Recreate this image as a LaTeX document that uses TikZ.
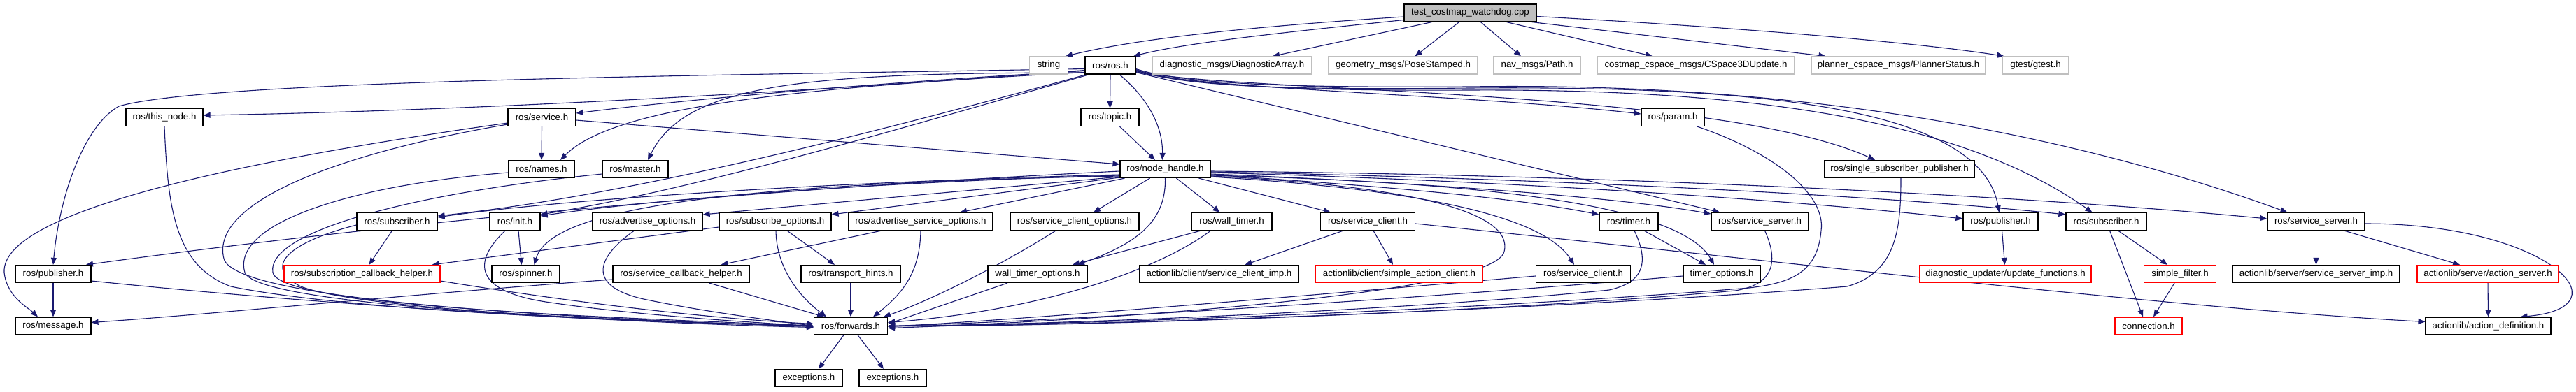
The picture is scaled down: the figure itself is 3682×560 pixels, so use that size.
\documentclass[tikz,border=0pt]{standalone}
\usepackage{fontspec}
\setmainfont{Liberation Sans}
\usetikzlibrary{arrows.meta}
\pgfdeclarelayer{edgelayer}
\pgfsetlayers{edgelayer,main}
\definecolor{edgeblue}{HTML}{191970}
\definecolor{extgray}{HTML}{BFBFBF}
\definecolor{rootgray}{HTML}{BFBFBF}
\definecolor{trunc}{HTML}{FF0000}
\newcommand{\nodefont}{\fontsize{13.3}{16}\selectfont}
\begin{document}
\begin{tikzpicture}[x=1pt,y=-1pt,
  box/.style={draw=black, line width=1.2pt, fill=white, minimum height=25pt, inner sep=0pt, font=\nodefont},
  extbox/.style={box, draw=extgray},
  redbox/.style={box, draw=trunc},
  rootbox/.style={box, fill=rootgray},
  e/.style={draw=edgeblue, line width=1.1pt, -{Triangle[length=10pt,width=8pt]}}]
\useasboundingbox (0,0) rectangle (3682,560);
% rank 0
\node[rootbox, minimum width=189pt] (root) at (2101.5,18.5) {test\_costmap\_watchdog.cpp};
% rank 1
\node[extbox, minimum width=55pt] (string) at (1499,93.5) {string};
\node[box, minimum width=72pt] (rosh) at (1587,93.5) {ros/ros.h};
\node[extbox, minimum width=227pt] (diag) at (1761,93.5) {diagnostic\_msgs/DiagnosticArray.h};
\node[extbox, minimum width=213pt] (pose) at (2005.5,93.5) {geometry\_msgs/PoseStamped.h};
\node[extbox, minimum width=124pt] (path) at (2197,93.5) {nav\_msgs/Path.h};
\node[extbox, minimum width=281pt] (cspace) at (2424,93.5) {costmap\_cspace\_msgs/CSpace3DUpdate.h};
\node[extbox, minimum width=249pt] (planner) at (2713.5,93.5) {planner\_cspace\_msgs/PlannerStatus.h};
\node[extbox, minimum width=95pt] (gtest) at (2909.5,93.5) {gtest/gtest.h};
% rank 2
\node[box, minimum width=110pt] (thisnode) at (235,168) {ros/this\_node.h};
\node[box, minimum width=97pt] (service) at (774.5,168) {ros/service.h};
\node[box, minimum width=83pt] (topic) at (1586.5,168) {ros/topic.h};
\node[box, minimum width=90pt] (param) at (2391,168) {ros/param.h};
% rank 3
\node[box, minimum width=94pt] (names) at (774,242) {ros/names.h};
\node[box, minimum width=94pt] (master) at (908,242) {ros/master.h};
\node[box, minimum width=129pt] (nh) at (1665.5,242) {ros/node\_handle.h};
\node[box, minimum width=215pt] (ssp) at (2715,242) {ros/single\_subscriber\_publisher.h};
% rank 4
\node[box, minimum width=115pt] (sub1) at (567.5,317) {ros/subscriber.h};
\node[box, minimum width=72pt] (init) at (736,317) {ros/init.h};
\node[box, minimum width=157pt] (advopt) at (925.5,317) {ros/advertise\_options.h};
\node[box, minimum width=160pt] (subopt) at (1108,317) {ros/subscribe\_options.h};
\node[box, minimum width=206pt] (advsrvopt) at (1316,317) {ros/advertise\_service\_options.h};
\node[box, minimum width=184pt] (scopt) at (1536,317) {ros/service\_client\_options.h};
\node[box, minimum width=115pt] (walltimer) at (1760.5,317) {ros/wall\_timer.h};
\node[box, minimum width=135pt] (sc1) at (1955,317) {ros/service\_client.h};
\node[box, minimum width=84pt] (timer) at (2328,317) {ros/timer.h};
\node[box, minimum width=139pt] (ss1) at (2515.5,317) {ros/service\_server.h};
\node[box, minimum width=107pt] (pub2) at (2859.5,317) {ros/publisher.h};
\node[box, minimum width=115pt] (sub2) at (3010.5,317) {ros/subscriber.h};
\node[box, minimum width=139pt] (ss2) at (3310.5,317) {ros/service\_server.h};
% rank 5
\node[box, minimum width=108pt] (pub1) at (76,392) {ros/publisher.h};
\node[redbox, minimum width=223pt] (subcbh) at (517.5,392) {ros/subscription\_callback\_helper.h};
\node[box, minimum width=97pt] (spinner) at (751.5,392) {ros/spinner.h};
\node[box, minimum width=195pt] (srvcbh) at (973.5,392) {ros/service\_callback\_helper.h};
\node[box, minimum width=142pt] (transport) at (1216,392) {ros/transport\_hints.h};
\node[box, minimum width=142pt] (wto) at (1483,392) {wall\_timer\_options.h};
\node[box, minimum width=227pt] (scimp) at (1742.5,392) {actionlib/client/service\_client\_imp.h};
\node[redbox, minimum width=239pt] (sac) at (2000,392) {actionlib/client/simple\_action\_client.h};
\node[box, minimum width=135pt] (sc2) at (2263,392) {ros/service\_client.h};
\node[box, minimum width=110pt] (timeropt) at (2461,392) {timer\_options.h};
\node[redbox, minimum width=245pt] (updfun) at (2866.5,392) {diagnostic\_updater/update\_functions.h};
\node[redbox, minimum width=103pt] (sfilter) at (3116,392) {simple\_filter.h};
\node[box, minimum width=238pt] (ssimp) at (3310.5,392) {actionlib/server/service\_server\_imp.h};
\node[redbox, minimum width=202pt] (actsrv) at (3556,392) {actionlib/server/action\_server.h};
% rank 6
\node[box, minimum width=108pt] (message) at (76,466.5) {ros/message.h};
\node[box, minimum width=105pt] (forwards) at (1216,466.5) {ros/forwards.h};
\node[redbox, minimum width=96pt] (connection) at (3071,466.5) {connection.h};
\node[box, minimum width=179pt] (actdef) at (3556.5,466.5) {actionlib/action\_definition.h};
% rank 7
\node[box, minimum width=96pt] (exc1) at (1156,541) {exceptions.h};
\node[box, minimum width=96pt] (exc2) at (1276,541) {exceptions.h};

\begin{pgfonlayer}{edgelayer}
% ---- edges from root
\draw[e] ([yshift=-5.5pt]root.west) .. controls (1820,36) and (1640,52) .. ([xshift=24pt]string.north);
\draw[e] ([yshift=-10pt]root.west) .. controls (1850,45) and (1700,60) .. ([xshift=33pt]rosh.north);
\draw[e] ([xshift=-55pt]root.south) -- ([xshift=58pt]diag.north);
\draw[e] ([xshift=-16pt]root.south) -- ([xshift=17pt]pose.north);
\draw[e] ([xshift=15pt]root.south) -- ([xshift=-23pt]path.north);
\draw[e] ([xshift=52pt]root.south) -- ([xshift=-62pt]cspace.north);
\draw[e] ([xshift=88pt]root.south) -- ([xshift=-104pt]planner.north);
\draw[e] ([yshift=-5pt]root.east) .. controls (2500,40) and (2750,62) .. ([xshift=-45pt]gtest.north);

% ---- edges from ros/ros.h
\draw[e] ([yshift=-7pt]rosh.west) .. controls (1200,128) and (700,158) .. ([yshift=3pt]thisnode.east);
\draw[e] ([yshift=-5pt]rosh.west) .. controls (1000,108) and (300,115) .. (170,152) .. controls (120,180) and (85,280) .. (pub1.north);
\draw[e] ([yshift=-8pt]rosh.west) .. controls (1300,115) and (1000,140) .. ([yshift=6pt]service.east);
\draw[e] ([yshift=-10pt]rosh.west) .. controls (1150,125) and (880,150) .. ([xshift=27pt]names.north);
\draw[e] ([yshift=-10.5pt]rosh.west) .. controls (1150,104) and (980,120) .. ([xshift=18pt]master.north);
\draw[e] (rosh.south) -- (topic.north);
\draw[e] ([xshift=13pt]rosh.south) .. controls (1640,140) and (1662,180) .. ([xshift=-4pt]nh.north);
\draw[e] ([xshift=-30pt]rosh.south) .. controls (1300,180) and (1000,270) .. ([yshift=10pt]init.east);
\draw[e] ([xshift=-34pt]rosh.south) .. controls (1250,190) and (900,280) .. ([yshift=8pt]sub1.east);
\draw[e] ([yshift=-10pt]rosh.east) -- ([xshift=-57pt]ss1.north);
\draw[e] ([yshift=-9pt]rosh.east) .. controls (1720,128) and (2100,135) .. ([yshift=5pt]param.west);
\draw[e] ([yshift=-8pt]rosh.east) .. controls (1740,132) and (2450,125) .. ([xshift=-35pt]ssp.north);
\draw[e] ([yshift=-7pt]rosh.east) .. controls (1700,128) and (1900,128) .. (2100,126) .. controls (2500,123) and (2830,150) .. ([xshift=-2pt]pub2.north);
\draw[e] ([yshift=-6pt]rosh.east) .. controls (1700,126) and (1900,130) .. (2100,129) .. controls (2500,127) and (2800,170) .. ([xshift=-20pt]sub2.north);
\draw[e] ([yshift=-5pt]rosh.east) .. controls (1700,124) and (1900,125) .. (2100,124) .. controls (2500,118) and (2900,170) .. ([xshift=-41pt]ss2.north);

% ---- rank 2/3 sources
\draw[e] ([xshift=14pt]topic.south) -- ([xshift=-14.5pt]nh.north);
\draw[e] (service.south) -- (names.north);
\draw[e] ([yshift=-4pt]service.east) -- ([yshift=7pt]nh.west);
\draw[e] ([yshift=-8pt]service.west) .. controls (450,215) and (0,290) .. (6,390) .. controls (10,425) and (40,440) .. ([xshift=-22pt]message.north);
\draw[e] ([yshift=-10pt]service.west) .. controls (480,220) and (300,290) .. (320,370) .. controls (335,430) and (800,455) .. ([yshift=-1pt]forwards.west);
\draw[e] (thisnode.south) .. controls (240,300) and (250,380) .. (330,410) .. controls (500,445) and (900,460) .. (forwards.west);
\draw[e] ([yshift=-5pt]names.west) .. controls (500,265) and (330,320) .. (350,390) .. controls (370,440) and (900,460) .. (forwards.west);
\draw[e] ([yshift=-7pt]master.west) .. controls (600,275) and (380,330) .. (390,390) .. controls (400,440) and (900,455) .. (forwards.west);
\draw[e] ([xshift=2pt]ssp.south) .. controls (2717,330) and (2710,390) .. (2640,410) .. controls (2200,445) and (1500,468) .. (forwards.east);
\draw[e] ([xshift=35pt]param.south) .. controls (2540,220) and (2610,280) .. (2603,330) .. controls (2598,390) and (2560,405) .. (2500,412) .. controls (2100,445) and (1500,466) .. (forwards.east);

% ---- edges from ros/node_handle.h
\draw[e] ([yshift=-8pt]nh.west) .. controls (1200,260) and (800,285) .. ([yshift=6pt]sub1.east);
\draw[e] ([yshift=-9pt]nh.west) .. controls (1200,262) and (900,290) .. ([yshift=8pt]init.east);
\draw[e] ([yshift=-10pt]nh.west) .. controls (1100,262) and (790,290) .. ([xshift=12pt]spinner.north);
\draw[e] ([yshift=-11pt]nh.west) -- ([yshift=10pt]advopt.east);
\draw[e] ([yshift=-12pt]nh.west) -- ([yshift=10pt]subopt.east);
\draw[e] ([xshift=-58pt]nh.south) -- ([xshift=56pt]advsrvopt.north);
\draw[e] ([xshift=-22pt]nh.south) -- ([xshift=27pt]scopt.north);
\draw[e] ([yshift=-3pt]nh.west) .. controls (1250,262) and (700,300) .. ([xshift=47pt]pub1.north);
\draw[e] ([xshift=16pt]nh.south) -- ([xshift=-17pt]walltimer.north);
\draw[e] (nh.south) .. controls (1667,320) and (1620,350) .. ([xshift=57pt]wto.north);
\draw[e] ([xshift=48pt]nh.south) -- ([xshift=-53pt]sc1.north);
\draw[e] ([yshift=-11pt]nh.east) .. controls (1980,268) and (2200,300) .. ([xshift=-13pt]sc2.north);
\draw[e] ([yshift=-8pt]nh.east) .. controls (1950,265) and (2150,280) .. ([yshift=10pt]timer.west);
\draw[e] ([yshift=-9pt]nh.east) .. controls (2100,260) and (2400,290) .. ([xshift=-11pt]timeropt.north);
\draw[e] ([yshift=-7pt]nh.east) .. controls (2000,260) and (2300,280) .. ([yshift=11pt]ss1.west);
\draw[e] ([yshift=-5pt]nh.east) .. controls (2200,260) and (2600,290) .. ([yshift=4pt]pub2.west);
\draw[e] ([yshift=-4pt]nh.east) .. controls (2200,255) and (2700,280) .. ([yshift=10pt]sub2.west);
\draw[e] ([yshift=-3pt]nh.east) .. controls (2300,250) and (2900,280) .. ([yshift=4pt]ss2.west);
\draw[e] ([yshift=-10pt]nh.east) .. controls (2000,265) and (2165,300) .. (2150,360) .. controls (2135,425) and (1500,462) .. ([yshift=-3pt]forwards.east);

% ---- rank 4 sources
\draw[e] ([xshift=-7pt]sub1.south) -- ([xshift=10pt]subcbh.north);
\draw[e] ([yshift=-5pt]sub1.west) .. controls (420,345) and (370,380) .. (430,410) .. controls (520,445) and (950,462) .. (forwards.west);
\draw[e] ([xshift=5pt]init.south) -- ([xshift=-6pt]spinner.north);
\draw[e] ([xshift=-14pt]init.south) .. controls (680,370) and (670,415) .. (780,432) .. controls (900,450) and (1050,460) .. (forwards.west);
\draw[e] ([xshift=-19pt]advopt.south) .. controls (850,370) and (840,410) .. (920,428) .. controls (1000,445) and (1100,458) .. (forwards.west);
\draw[e] ([yshift=-8pt]subopt.west) -- ([xshift=100pt]subcbh.north);
\draw[e] ([xshift=17pt]subopt.south) -- ([xshift=-23pt]transport.north);
\draw[e] ([xshift=1pt]subopt.south) .. controls (1110,390) and (1150,430) .. ([xshift=-35pt]forwards.north);
\draw[e] ([xshift=-56pt]advsrvopt.south) -- ([xshift=57pt]srvcbh.north);
\draw[e] (advsrvopt.south) .. controls (1315,390) and (1290,420) .. ([xshift=32pt]forwards.north);
\draw[e] ([xshift=-27pt]scopt.south) .. controls (1430,380) and (1330,430) .. ([xshift=47pt]forwards.north);
\draw[e] ([xshift=-44pt]walltimer.south) -- ([xshift=50pt]wto.north);
\draw[e] ([xshift=-30pt]walltimer.south) .. controls (1650,390) and (1480,445) .. ([yshift=5pt]forwards.east);
\draw[e] ([xshift=-35pt]sc1.south) -- ([xshift=37pt]scimp.north);
\draw[e] ([xshift=8pt]sc1.south) -- ([xshift=-9pt]sac.north);
\draw[e] ([yshift=-3pt]sc1.east) .. controls (2600,380) and (3100,440) .. ([yshift=6pt]actdef.west);
\draw[e] ([xshift=22pt]timer.south) -- ([xshift=-23pt]timeropt.north);
\draw[e] ([xshift=8pt]timer.south) .. controls (2360,380) and (2345,405) .. (2300,415) .. controls (2000,445) and (1500,465) .. (forwards.east);
\draw[e] ([xshift=7pt]ss1.south) .. controls (2545,380) and (2530,408) .. (2480,416) .. controls (2100,450) and (1500,468) .. (forwards.east);
\draw[e] ([xshift=2pt]pub2.south) -- ([xshift=-1pt]updfun.north);
\draw[e] ([xshift=17pt]sub2.south) -- ([xshift=-18pt]sfilter.north);
\draw[e] ([xshift=5pt]sub2.south) -- ([xshift=-8pt]connection.north);
\draw[e] (ss2.south) -- (ssimp.north);
\draw[e] ([xshift=40pt]ss2.south) -- ([xshift=-40pt]actsrv.north);
\draw[e] ([yshift=-3pt]ss2.east) .. controls (3640,320) and (3760,440) .. ([xshift=46pt]actdef.north);

% ---- rank 5 sources
\draw[e] (pub1.south) -- (message.north);
\draw[e] ([yshift=-10pt]pub1.east) .. controls (500,440) and (900,462) .. ([yshift=-2pt]forwards.west);
\draw[e] ([yshift=-10pt]subcbh.east) .. controls (800,430) and (1000,455) .. ([yshift=3pt]forwards.west);
\draw[e] ([yshift=-8pt]srvcbh.west) .. controls (600,420) and (300,450) .. ([yshift=5pt]message.east);
\draw[e] ([xshift=40.5pt]srvcbh.south) -- ([xshift=-38pt]forwards.north);
\draw[e] (transport.south) -- (forwards.north);
\draw[e] ([xshift=-43pt]wto.south) -- ([yshift=3pt]forwards.east);
\draw[e] ([yshift=-3pt]sc2.west) .. controls (1900,420) and (1500,455) .. ([yshift=-1pt]forwards.east);
\draw[e] ([yshift=-3pt]timeropt.west) .. controls (2000,430) and (1500,460) .. (forwards.east);
\draw[e] ([xshift=-8pt]sfilter.south) -- ([xshift=7pt]connection.north);
\draw[e] (actsrv.south) -- (actdef.north);

% ---- rank 6 sources
\draw[e] ([xshift=-10pt]forwards.south) -- ([xshift=14pt]exc1.north);
\draw[e] ([xshift=10pt]forwards.south) -- ([xshift=-13pt]exc2.north);
\end{pgfonlayer}
\end{tikzpicture}
\end{document}
